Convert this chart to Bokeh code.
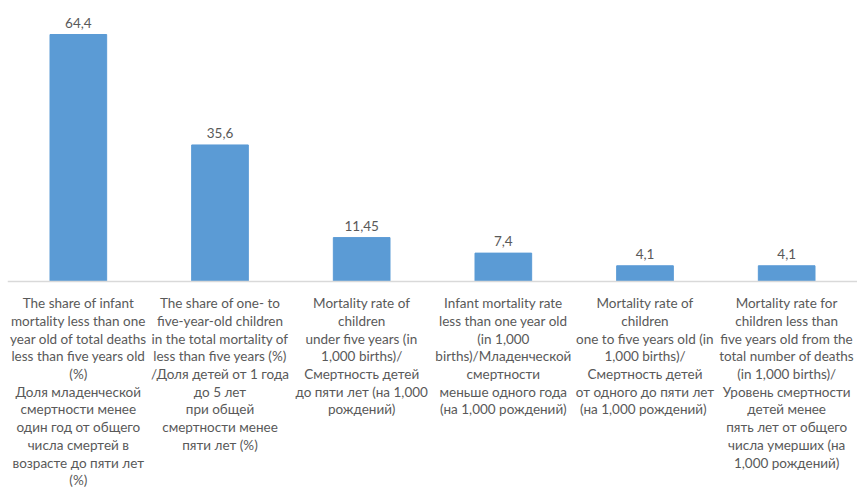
from bokeh.plotting import figure
from bokeh.models import ColumnDataSource, LabelSet, Span
from bokeh.core.properties import value
from bokeh.embed import file_html
from bokeh.resources import INLINE

categories = [
    "The share of infant\nmortality less than one\nyear old of total deaths\nless than five years old\n(%)\nДоля младенческой\nсмертности менее\nодин год от общего\nчисла смертей в\nвозрасте до пяти лет\n(%)",
    "The share of one- to\nfive-year-old children\nin the total mortality of\nless than five years (%)\n/Доля детей от 1 года\nдо 5 лет\nпри общей\nсмертности менее\nпяти лет (%)",
    "Mortality rate of\nchildren\nunder five years (in\n1,000 births)/\nСмертность детей\nдо пяти лет (на 1,000\nрождений)",
    "Infant mortality rate\nless than one year old\n(in 1,000\nbirths)/Младенческой\nсмертности\nменьше одного года\n(на 1,000 рождений)",
    "Mortality rate of\nchildren\none to five years old (in\n1,000 births)/\nСмертность детей\nот одного до пяти лет\n(на  1,000 рождений)",
    "Mortality rate for\nchildren less than\nfive years old from the\ntotal number of deaths\n(in 1,000 births)/\nУровень смертности\nдетей менее\nпять лет от общего\nчисла умерших (на\n1,000 рождений)",
]
values = [64.4, 35.6, 11.45, 7.4, 4.1, 4.1]
value_labels = ["64,4", "35,6", "11,45", "7,4", "4,1", "4,1"]

FONT = "Lato"
GRAY = "#595959"
W, H = 857, 489
FRAME_TOP_H = 281          # pixels from top to the baseline
PX_PER_UNIT = 247 / 64.4   # bar scale
LINE_GAP = 17.7
FIRST_LINE = 21.7

src = ColumnDataSource(dict(cat=categories, val=values, lab=value_labels))

# one row per text line so that each line is centred on its bar
line_cat, line_txt, line_off = [], [], []
for c in categories:
    for i, t in enumerate(c.split("\n")):
        line_cat.append(c)
        line_txt.append(t)
        line_off.append(-(FIRST_LINE + i * LINE_GAP))
line_src = ColumnDataSource(dict(cat=line_cat, txt=line_txt, off=line_off))

y_top = FRAME_TOP_H / PX_PER_UNIT
y_bot = -(H - FRAME_TOP_H) / PX_PER_UNIT

p = figure(x_range=categories, y_range=(y_bot, y_top), width=W, height=H,
           output_backend="svg", toolbar_location=None,
           min_border_left=7, min_border_right=0, min_border_top=0, min_border_bottom=0)
p.vbar(x="cat", top="val", bottom=0, width=0.4, source=src,
       fill_color="#5B9BD5", line_color="#5B9BD5")

labels = LabelSet(x="cat", y="val", text="lab", source=src, text_align="center",
                  text_baseline="bottom", y_offset=7, text_font=value(FONT),
                  text_font_size="13.5px", text_color=GRAY)
p.add_layout(labels)

cat_labels = LabelSet(x="cat", y=value(0), text="txt", source=line_src, text_align="center",
                      text_baseline="middle", y_offset="off", text_font=value(FONT),
                      text_font_size="13.5px", text_color=GRAY)
p.add_layout(cat_labels)

p.add_layout(Span(location=0, dimension="width", line_color="#D9D9D9", line_width=1.5))

p.xaxis.visible = False
p.yaxis.visible = False
p.xgrid.visible = False
p.ygrid.visible = False
p.outline_line_color = None
p.x_range.range_padding = 0

open("out.html", "w").write(file_html(p, INLINE))
